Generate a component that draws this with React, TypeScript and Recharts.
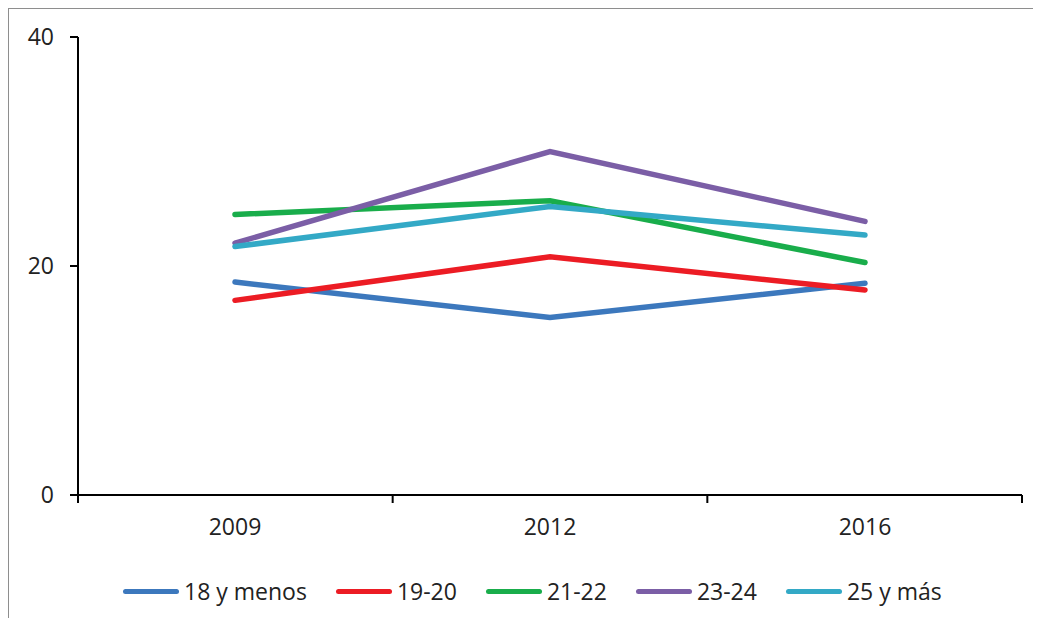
import { LineChart, Line, XAxis, YAxis } from "recharts";

const years = ["2009", "2012", "2016"];
const seriesNames = ["18 y menos", "19-20", "21-22", "23-24", "25 y más"];
const menos18 = [18.6, 15.5, 18.5];
const e1920 = [17.0, 20.8, 17.9];
const e2122 = [24.5, 25.7, 20.3];
const e2324 = [22.0, 30.0, 23.9];
const mas25 = [21.7, 25.2, 22.7];
const yTicks = [0, 20, 40];
const frameTicks = [0, 1, 2, 3];

const COLORS = ["#3c78bd", "#ec1c24", "#19ad4b", "#7b5ea6", "#33a9c6"];
const FONT = "'Open Sans', sans-serif";

const values = [menos18, e1920, e2122, e2324, mas25];
const chartData = years.map((year, i) => {
  const row: Record<string, string | number> = { year, pos: i + 0.5 };
  seriesNames.forEach((name, s) => {
    row[name] = values[s][i];
  });
  return row;
});

function ChartLegend() {
  return (
    <div
      style={{
        position: "absolute",
        top: 567,
        left: 115,
        display: "flex",
        alignItems: "center",
        fontFamily: FONT,
        fontSize: 23,
        color: "#222",
      }}
    >
      {seriesNames.map((name, i) => (
        <div
          key={name}
          style={{ display: "flex", alignItems: "center", marginRight: 29 }}
        >
          <span
            style={{
              display: "inline-block",
              width: 56,
              height: 5,
              borderRadius: 3,
              background: COLORS[i],
              marginRight: 5,
            }}
          />
          <span>{name}</span>
        </div>
      ))}
    </div>
  );
}

export default function App() {
  return (
    <div style={{ position: "relative", width: 1033, height: 610 }}>
      <div
        style={{
          position: "absolute",
          left: -1,
          top: -1,
          right: 0,
          bottom: 0,
          borderTop: "2px solid #8e8e8e",
          borderLeft: "2px solid #8e8e8e",
        }}
      />
      <LineChart
        width={1033}
        height={610}
        data={chartData}
        margin={{ top: 29, right: 19, bottom: 62, left: 0 }}
      >
        <XAxis
          xAxisId="a"
          dataKey="pos"
          type="number"
          domain={[0, 3]}
          ticks={frameTicks}
          tickFormatter={() => ""}
          height={1}
          stroke="#000"
          strokeWidth={2}
          tickSize={8}
        />
        <XAxis
          xAxisId="b"
          dataKey="year"
          padding={{ left: 157, right: 157 }}
          axisLine={false}
          tickLine={false}
          tickSize={0}
          tickMargin={23}
          height={60}
          tick={{ fontSize: 23, fill: "#222", fontFamily: FONT }}
        />
        <YAxis
          domain={[0, 40]}
          ticks={yTicks}
          width={70}
          stroke="#000"
          strokeWidth={2}
          tickSize={8}
          tickMargin={16}
          tick={{ fontSize: 23, fill: "#222", fontFamily: FONT }}
        />
        <Line
          xAxisId="a"
          dataKey="pos"
          stroke="none"
          dot={false}
          activeDot={false}
          legendType="none"
          isAnimationActive={false}
        />
        {seriesNames.map((name, i) => (
          <Line
            key={name}
            xAxisId="b"
            dataKey={name}
            stroke={COLORS[i]}
            strokeWidth={5.5}
            strokeLinecap="round"
            dot={false}
            activeDot={false}
            isAnimationActive={false}
          />
        ))}
      </LineChart>
      <ChartLegend />
    </div>
  );
}
